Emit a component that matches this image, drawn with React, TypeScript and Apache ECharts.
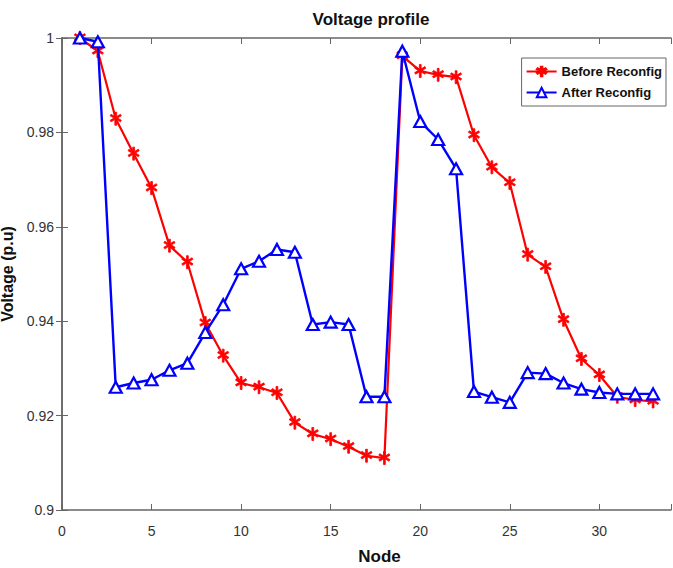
import React, { useEffect, useRef } from "react";
import * as echarts from "echarts";

const nodes = [1,2,3,4,5,6,7,8,9,10,11,12,13,14,15,16,17,18,19,20,21,22,23,24,25,26,27,28,29,30,31,32,33];
const beforeReconfig = [1.0,0.9972,0.9829,0.9755,0.9682,0.956,0.9525,0.9396,0.9327,0.9269,0.926,0.9248,0.9185,0.9161,0.915,0.9134,0.9115,0.911,0.9962,0.993,0.9922,0.9917,0.9794,0.9726,0.9693,0.9541,0.9515,0.9403,0.932,0.9286,0.924,0.9233,0.923];
const afterReconfig = [1.0,0.9992,0.926,0.9269,0.9276,0.9296,0.9311,0.9376,0.9435,0.9511,0.9527,0.9552,0.9546,0.9393,0.9398,0.9393,0.924,0.924,0.9972,0.9823,0.9785,0.9723,0.9251,0.9239,0.9228,0.9291,0.9289,0.9269,0.9256,0.9249,0.9246,0.9246,0.9246];

const FONT = "'Liberation Sans', Arial, sans-serif";
const STAR = "path://M4.3,0L5.7,0L5.7,3.3L8.6,1.6L9.3,2.8L6.4,4.5L9.3,6.2L8.6,7.4L5.7,5.7L5.7,10L4.3,10L4.3,5.7L1.4,7.4L0.7,6.2L3.6,4.5L0.7,2.8L1.4,1.6L4.3,3.3Z";

export default function App() {
  const ref = useRef<HTMLDivElement>(null);
  useEffect(() => {
    const chart = echarts.init(ref.current!, null, { renderer: "svg" });
    const axisLine = { show: true, lineStyle: { color: "#666", width: 1.5 } };
    const axisTick = { show: true, inside: true, length: 6, lineStyle: { color: "#666" } };
    chart.setOption({
      animation: false,
      backgroundColor: "#fff",
      title: {
        text: "Voltage profile",
        left: 366,
        textAlign: "center",
        top: 6,
        textStyle: { fontFamily: FONT, fontSize: 17, fontWeight: "bold", color: "#111" },
      },
      grid: { left: 62, top: 38, width: 609, height: 472, outerBoundsMode: "none", containLabel: false },
      legend: {
        orient: "vertical",
        right: 7,
        top: 58,
        itemWidth: 30,
        itemHeight: 12,
        itemGap: 8,
        padding: [7, 4, 7, 4],
        borderColor: "#666",
        borderWidth: 1,
        textStyle: { fontFamily: FONT, fontSize: 13, fontWeight: "bold", color: "#111" },
        data: ["Before Reconfig", "After Reconfig"],
      },
      xAxis: [
        {
          type: "value",
          min: 0,
          max: 34,
          interval: 5,
          name: "Node",
          nameLocation: "middle",
          nameGap: 38,
          nameTextStyle: { fontFamily: FONT, fontSize: 17, fontWeight: "bold", color: "#111", padding: [0, 0, 0, 26] },
          axisLine,
          axisTick,
          splitLine: { show: false },
          axisLabel: {
            fontFamily: FONT, fontSize: 14, color: "#333", margin: 14,
            formatter: (v: number) => (v > 33 ? "" : String(v)),
          },
        },
        {
          type: "value", position: "top", min: 0, max: 34, interval: 5,
          axisLine, axisTick, splitLine: { show: false }, axisLabel: { show: false },
        },
      ],
      yAxis: [
        {
          type: "value",
          min: 0.9,
          max: 1.0,
          interval: 0.02,
          name: "Voltage (p.u)",
          nameLocation: "middle",
          nameGap: 42,
          nameTextStyle: { fontFamily: FONT, fontSize: 16, fontWeight: "bold", color: "#111" },
          axisLine,
          axisTick,
          splitLine: { show: false },
          axisLabel: {
            fontFamily: FONT, fontSize: 14, color: "#333", margin: 8,
            formatter: (v: number) => String(parseFloat(v.toFixed(2))),
          },
        },
        {
          type: "value", position: "right", min: 0.9, max: 1.0, interval: 0.02,
          axisLine, axisTick, splitLine: { show: false }, axisLabel: { show: false },
        },
      ],
      series: [
        {
          name: "Before Reconfig",
          type: "line",
          data: nodes.map((n, i) => [n, beforeReconfig[i]]),
          itemStyle: { color: "#ff0000", borderColor: "#ff0000", borderWidth: 0.8 },
          lineStyle: { color: "#ff0000", width: 2.2 },
          symbol: STAR,
          symbolSize: 13,
          symbolKeepAspect: true,
          showSymbol: true,
          emphasis: { disabled: true },
          z: 2,
        },
        {
          name: "After Reconfig",
          type: "line",
          data: nodes.map((n, i) => [n, afterReconfig[i]]),
          itemStyle: { color: "#fff", borderColor: "#0000ff", borderWidth: 2.2 },
          lineStyle: { color: "#0000ff", width: 2.4 },
          symbol: "triangle",
          symbolSize: [12, 11],
          emphasis: { disabled: true },
          z: 3,
        },
      ],
    });
    return () => chart.dispose();
  }, []);
  return <div ref={ref} style={{ width: 673, height: 568, position: "absolute", left: 0, top: 0 }} />;
}
